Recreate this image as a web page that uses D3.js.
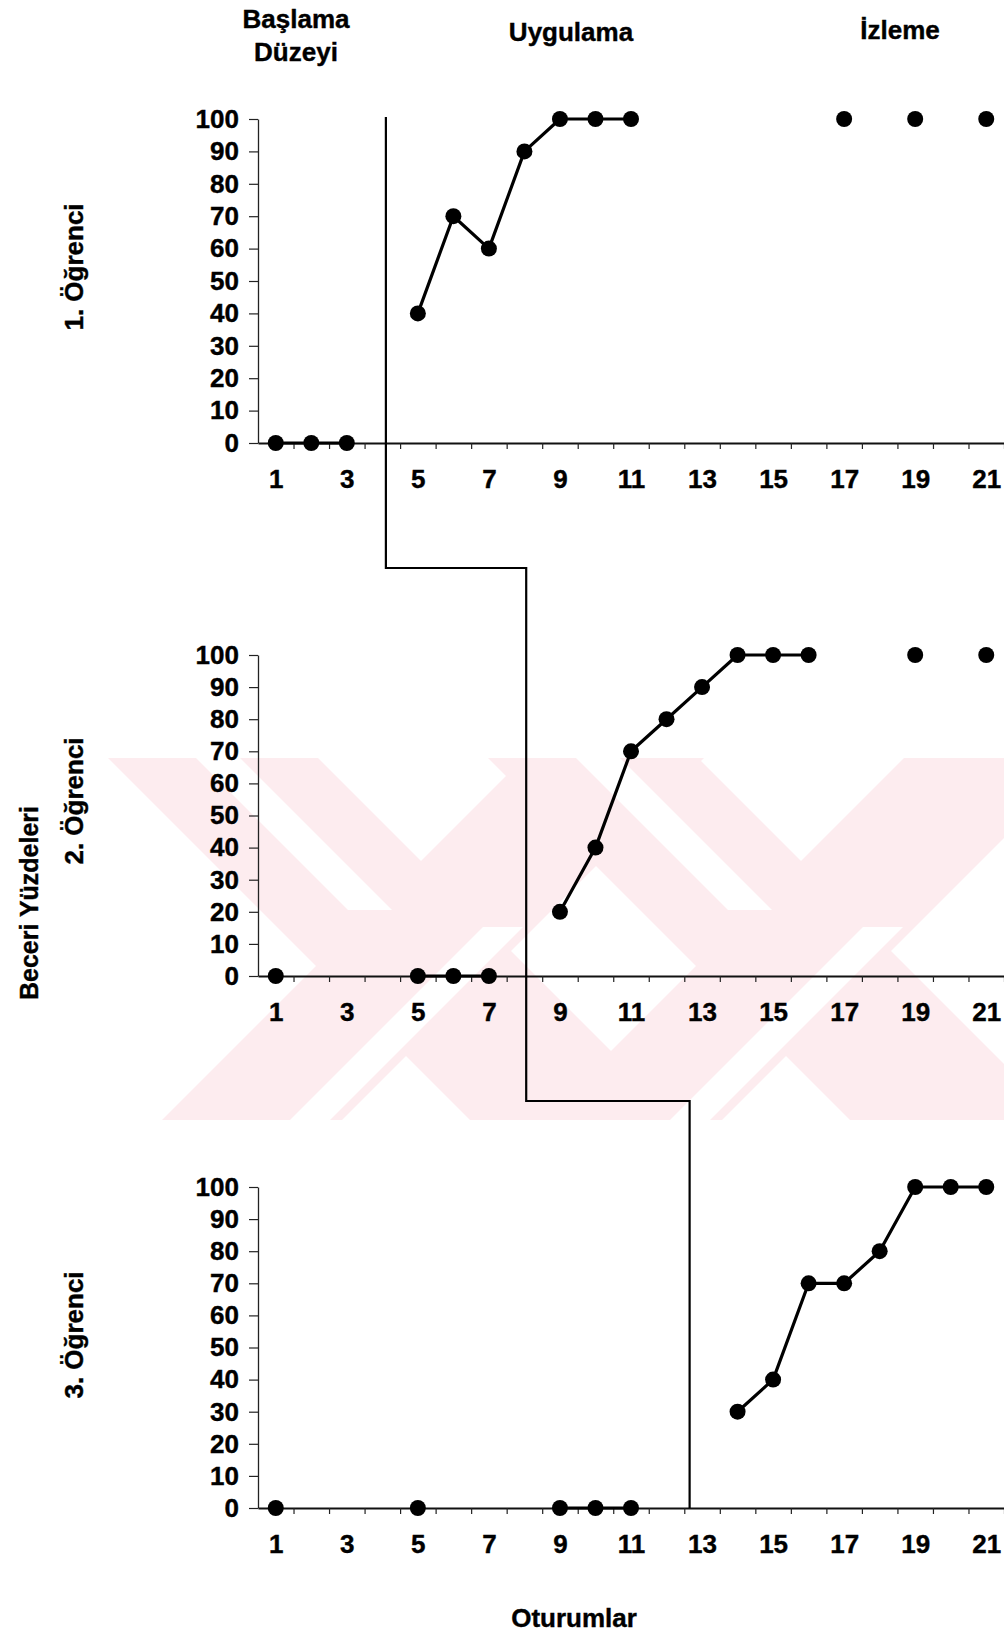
<!DOCTYPE html>
<html>
<head>
<meta charset="utf-8">
<script src="https://cdn.jsdelivr.net/npm/d3@7"></script>
<style>
  html, body { margin: 0; padding: 0; background: #ffffff; }
  svg { display: block; }
  text { font-family: "Liberation Sans", Arial, sans-serif; font-weight: bold; fill: #000; stroke: #000; stroke-width: 0.4px; }
</style>
</head>
<body>
<script>
// ---------------- DATA ----------------
const phaseTitles = [["Başlama", "Düzeyi"], ["Uygulama"], ["İzleme"]];
const studentLabels = ["1. Öğrenci", "2. Öğrenci", "3. Öğrenci"];
const yAxisTitle = "Beceri Yüzdeleri";
const xAxisTitle = "Oturumlar";

const xTickLabels = [1, 3, 5, 7, 9, 11, 13, 15, 17, 19, 21];
const yTickLabels = [0, 10, 20, 30, 40, 50, 60, 70, 80, 90, 100];
const sessionCount = 21;

// phase-change line position (session value) for each student
const phaseChange = [4.1, 8.05, 12.65];

// each student: list of connected segments (single points = unconnected)
const student1 = [
  { x: [1, 2, 3], y: [0, 0, 0] },
  { x: [5, 6, 7, 8, 9, 10, 11], y: [40, 70, 60, 90, 100, 100, 100] },
  { x: [17], y: [100] },
  { x: [19], y: [100] },
  { x: [21], y: [100] }
];
const student2 = [
  { x: [1], y: [0] },
  { x: [5, 6, 7], y: [0, 0, 0] },
  { x: [9, 10, 11, 12, 13, 14, 15, 16], y: [20, 40, 70, 80, 90, 100, 100, 100] },
  { x: [19], y: [100] },
  { x: [21], y: [100] }
];
const student3 = [
  { x: [1], y: [0] },
  { x: [5], y: [0] },
  { x: [9, 10, 11], y: [0, 0, 0] },
  { x: [14, 15, 16, 17, 18, 19, 20, 21], y: [30, 40, 70, 70, 80, 100, 100, 100] }
];
const students = [student1, student2, student3];

// ---------------- LAYOUT ----------------
const W = 1004, H = 1634;
const panelRanges = [[443, 119], [976, 655], [1508, 1187]]; // [y of 0, y of 100]
const axisLeft = 258;

const svg = d3.select("body").append("svg").attr("width", W).attr("height", H);

// faint background watermark (decoration from the scanned source)
(function watermark() {
  const y0 = 758, y1 = 1120;
  const g = svg.append("g");
  const clip = svg.append("clipPath").attr("id", "wmclip");
  clip.append("rect").attr("x", 100).attr("y", y0).attr("width", W - 100).attr("height", y1 - y0);
  g.attr("clip-path", "url(#wmclip)");
  const diffBand = (a, b, ya, yb) => [[a + ya, ya], [b + ya, ya], [b + yb, yb], [a + yb, yb]];
  const sumBand = (c, d, ya, yb) => [[c - ya, ya], [d - ya, ya], [d - yb, yb], [c - yb, yb]];
  const pink = "#fdecef";
  [0, 380].forEach(s => {
    g.append("polygon").attr("points", diffBand(-650 + s, -440 + s, y0, y1).join(" ")).attr("fill", pink);
    g.append("polygon").attr("points", sumBand(1282 + s, 1462 + s, y0, y1).join(" ")).attr("fill", pink);
  });
  [0, 380].forEach(s => {
    g.append("polygon").attr("points", diffBand(-562 + s, -518 + s, y0, 910).join(" ")).attr("fill", "#fff");
    g.append("polygon").attr("points", sumBand(1410 + s, 1450 + s, 927, y1).join(" ")).attr("fill", "#fff");
  });
})();

const x = d3.scaleLinear().domain([0.5, sessionCount + 0.5]).range([axisLeft, W]);
const yScales = panelRanges.map(r => d3.scaleLinear().domain([0, 100]).range(r));

// phase titles
const titleX = [296, 571, 900];
const titleY = [[28, 61], [41], [39]];
phaseTitles.forEach((lines, i) => {
  lines.forEach((ln, j) => {
    svg.append("text").attr("x", titleX[i]).attr("y", titleY[i][j])
      .attr("text-anchor", "middle").style("font-size", "26px").text(ln);
  });
});

const labelFont = "'Liberation Sans', Arial, sans-serif";
const styleTick = sel => sel.style("font-size", "26px").style("font-family", labelFont)
  .style("font-weight", "bold").attr("fill", "#000").attr("stroke", "#000").attr("stroke-width", 0.4);

// panels
students.forEach((segs, i) => {
  const y = yScales[i];
  const g = svg.append("g");

  // y axis
  const ya = g.append("g").attr("transform", `translate(${axisLeft},0)`)
    .call(d3.axisLeft(y).tickValues(yTickLabels).tickSize(9).tickSizeOuter(0).tickPadding(10));
  ya.select(".domain").attr("stroke", "#222").attr("stroke-width", 1.3);
  ya.selectAll(".tick line").attr("stroke", "#222").attr("stroke-width", 1.2);
  styleTick(ya.selectAll(".tick text"));

  // x axis tick marks (between sessions)
  const halfTicks = d3.range(1, sessionCount + 1).map(v => v + 0.5);
  const xa = g.append("g").attr("transform", `translate(0,${y(0)})`)
    .call(d3.axisBottom(x).tickValues(halfTicks).tickSize(6).tickSizeOuter(0).tickFormat(""));
  xa.select(".domain").attr("stroke", "#111").attr("stroke-width", 2);
  xa.selectAll(".tick line").attr("stroke", "#222").attr("stroke-width", 1.2);

  // x labels
  const xl = g.append("g").attr("transform", `translate(0,${y(0)})`)
    .call(d3.axisBottom(x).tickValues(xTickLabels).tickSize(0).tickPadding(27));
  xl.select(".domain").remove();
  styleTick(xl.selectAll(".tick text"));

  // data
  const line = d3.line().x(d => x(d[0])).y(d => y(d[1]));
  segs.forEach(seg => {
    const pts = seg.x.map((v, k) => [v, seg.y[k]]);
    if (pts.length > 1) {
      g.append("path").datum(pts).attr("d", line)
        .attr("fill", "none").attr("stroke", "#000").attr("stroke-width", 3.2).attr("stroke-linejoin", "round");
    }
    g.selectAll(null).data(pts).enter().append("circle")
      .attr("cx", d => x(d[0])).attr("cy", d => y(d[1])).attr("r", 8).attr("fill", "#000");
  });

  // student label
  svg.append("text")
    .attr("transform", `translate(83,${[267, 801, 1335][i]}) rotate(-90)`)
    .attr("text-anchor", "middle").style("font-size", "26px").text(studentLabels[i]);
});

// phase change line (stepped)
const stepGap = 125;
const pcPts = [];
phaseChange.forEach((pc, i) => {
  const y = yScales[i];
  const px = x(pc);
  const top = i === 0 ? y(100) - 2 : yScales[i - 1](0) + stepGap;
  const bottom = i < phaseChange.length - 1 ? y(0) + stepGap : y(0);
  pcPts.push([px, top], [px, bottom]);
});
svg.append("path").attr("d", d3.line()(pcPts))
  .attr("fill", "none").attr("stroke", "#000").attr("stroke-width", 2.2);

// axis titles
svg.append("text").attr("transform", "translate(38,903) rotate(-90)")
  .attr("text-anchor", "middle").style("font-size", "25px").text(yAxisTitle);
svg.append("text").attr("x", 574).attr("y", 1627)
  .attr("text-anchor", "middle").style("font-size", "26px").text(xAxisTitle);
</script>
</body>
</html>
